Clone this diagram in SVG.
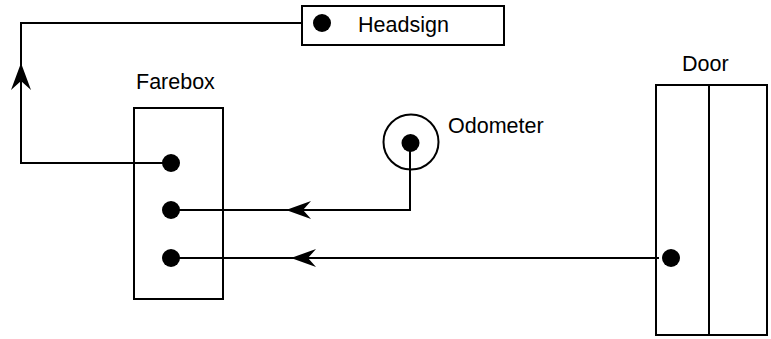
<svg xmlns="http://www.w3.org/2000/svg" width="771" height="339" viewBox="0 0 771 339">
<style>
.box{fill:#fff;stroke:#000;stroke-width:2}
.ln{fill:none;stroke:#000;stroke-width:2}
.dot{fill:#000}
.lbl{font-family:"Liberation Sans",Arial,sans-serif;font-size:21.5px;fill:#000}
.ah{fill:#000}
</style>
<rect width="771" height="339" fill="#fff"/>
<g id="connectors">
<polyline class="ln" points="322,23 21,23 21,163 171,163"/>
<path class="ah" d="M21,63 L31,90 L21,81 L11,90 Z"/>
<polyline class="ln" points="410,143 410,210 171,210"/>
<path class="ah" d="M286,210 L311,201 L303,210 L311,219 Z"/>
<line class="ln" x1="659" y1="258" x2="171" y2="258"/>
<path class="ah" d="M291,258 L316,249 L308,258 L316,267 Z"/>
</g>
<g id="headsign">
<rect class="box" x="302" y="6" width="202" height="39"/>
<circle class="dot" cx="322" cy="23" r="9"/>
<text class="lbl" x="358" y="32">Headsign</text>
</g>
<g id="farebox">
<text class="lbl" x="136" y="89">Farebox</text>
<rect class="box" x="134" y="108" width="89" height="191" fill-opacity="0"/>
<circle class="dot" cx="171" cy="163" r="9"/>
<circle class="dot" cx="171" cy="210" r="9"/>
<circle class="dot" cx="171" cy="258" r="9"/>
</g>
<g id="odometer">
<circle class="ln" cx="411" cy="142" r="27.5"/>
<circle class="dot" cx="410.5" cy="143" r="9"/>
<text class="lbl" x="448" y="133">Odometer</text>
</g>
<g id="door">
<text class="lbl" x="682" y="71">Door</text>
<rect class="box" x="656" y="85" width="111" height="250" fill-opacity="0"/>
<line class="ln" x1="709" y1="85" x2="709" y2="335"/>
<circle class="dot" cx="671" cy="258" r="9"/>
</g>
</svg>
